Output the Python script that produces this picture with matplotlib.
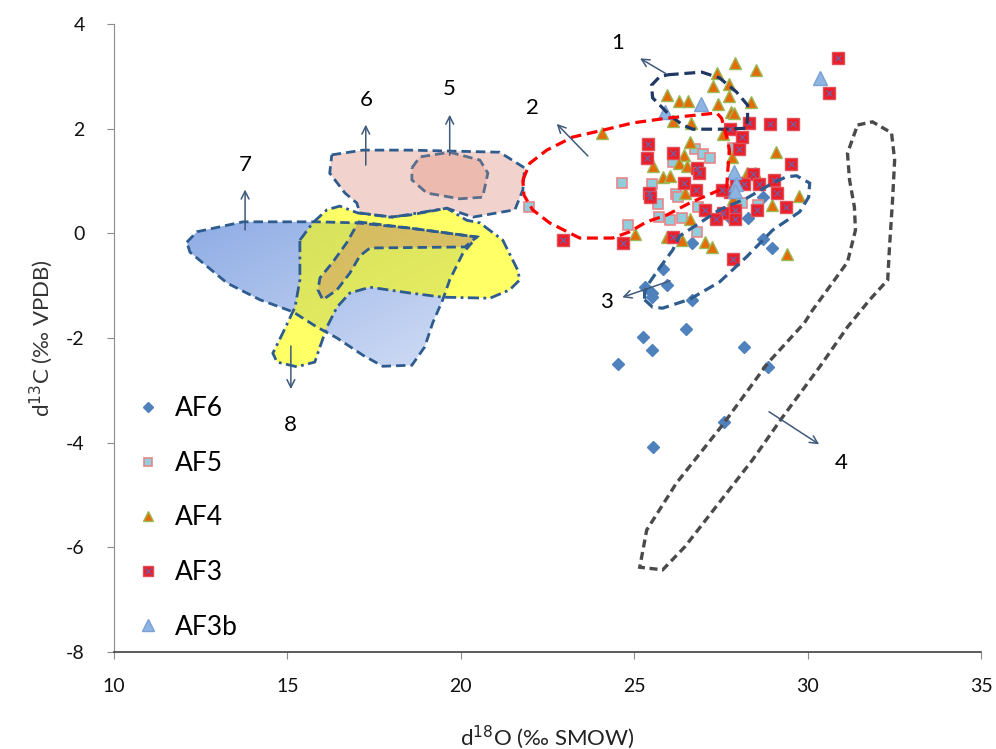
import matplotlib
matplotlib.use('Agg')
import matplotlib.pyplot as plt
import numpy as np
from matplotlib.patches import Polygon
from matplotlib.colors import LinearSegmentedColormap
from matplotlib.legend_handler import HandlerTuple

plt.rcParams['font.family'] = ['Lato', 'DejaVu Sans']
plt.rcParams['axes.unicode_minus'] = False

# ---------------- data ----------------
af6_x = [26.66, 28.96, 28.70, 25.82, 25.94, 25.30, 25.50, 25.50, 26.66, 26.48, 25.24, 25.50,
         28.16, 24.52, 28.85, 27.58, 25.53, 27.78, 28.70, 28.27]
af6_y = [-0.18, -0.28, -0.11, -0.68, -0.99, -1.03, -1.14, -1.22, -1.27, -1.83, -1.98, -2.23,
         -2.17, -2.50, -2.55, -3.61, -4.08, 0.27, 0.69, 0.29]

af5_x = [26.74, 26.97, 27.20, 26.11, 24.64, 25.50, 25.48, 25.68, 26.20, 26.25, 21.96, 24.81,
         25.71, 26.02, 26.37, 26.83, 28.56, 28.10, 26.80, 27.84]
af5_y = [1.61, 1.52, 1.44, 1.36, 0.96, 0.94, 0.77, 0.56, 0.75, 0.69, 0.50, 0.16,
         0.31, 0.25, 0.29, 0.50, 0.54, 0.58, 0.03, 1.63]

af4_x = [27.90, 28.50, 27.38, 27.26, 27.72, 25.94, 26.28, 26.54, 27.41, 27.72, 28.36, 27.78,
         27.87, 26.11, 26.63, 24.06, 27.55, 26.60, 26.43, 29.08, 25.53, 26.28, 26.51, 25.82,
         26.02, 27.81, 28.47, 26.46, 29.74, 28.96, 25.01, 25.94, 26.37, 27.03, 27.23, 29.42,
         26.60, 27.84, 28.24, 27.84]
af4_y = [3.25, 3.12, 3.06, 2.82, 2.85, 2.64, 2.53, 2.53, 2.47, 2.62, 2.51, 2.32,
         2.30, 2.15, 2.11, 1.92, 1.90, 1.75, 1.50, 1.55, 1.29, 1.34, 1.29, 1.08,
         1.10, 1.46, 1.15, 0.77, 0.71, 0.54, -0.01, -0.07, -0.13, -0.17, -0.26, -0.40,
         0.27, 0.58, 1.15, 0.66]

af3_x = [30.89, 30.63, 28.30, 28.93, 29.57, 27.75, 28.10, 28.01, 25.39, 25.36, 26.11, 29.51,
         26.80, 26.86, 26.43, 26.77, 25.42, 25.45, 28.42, 28.59, 29.02, 29.11, 27.93, 28.16,
         27.75, 27.03, 27.55, 27.90, 27.90, 28.53, 29.37, 27.35, 22.94, 24.67, 26.11, 27.84,
         27.52]
af3_y = [3.35, 2.68, 2.11, 2.09, 2.09, 1.99, 1.84, 1.61, 1.71, 1.44, 1.53, 1.32,
         1.25, 1.15, 0.96, 0.83, 0.77, 0.69, 1.13, 0.94, 1.02, 0.77, 0.96, 0.94,
         0.79, 0.45, 0.39, 0.45, 0.27, 0.45, 0.50, 0.27, -0.13, -0.18, -0.07, -0.49,
         0.83]

af3b_x = [30.37, 26.92, 25.88, 27.87, 27.93, 27.90]
af3b_y = [2.97, 2.47, 2.32, 1.17, 0.94, 0.81]

series_labels = ['AF6', 'AF5', 'AF4', 'AF3', 'AF3b']

# field outlines (data units)
region1 = [(25.97, 3.03), (26.95, 3.08), (27.46, 2.97), (27.95, 2.70), (28.27, 2.45), (28.27, 2.22),
           (28.24, 2.01), (27.67, 1.99), (26.69, 1.99), (26.40, 2.07), (26.02, 2.26), (25.53, 2.59),
           (25.50, 2.83), (25.73, 2.99)]
region2 = [(21.79, 1.02), (21.99, 1.34), (22.48, 1.59), (23.23, 1.84), (24.09, 1.97), (24.96, 2.11),
           (25.94, 2.20), (26.80, 2.26), (27.38, 2.30), (27.52, 2.20), (27.67, 1.84), (27.75, 1.59),
           (27.70, 1.21), (27.67, 0.89), (27.26, 0.77), (26.60, 0.58), (25.94, 0.35), (25.36, 0.22),
           (24.87, 0.03), (24.38, -0.09), (23.43, -0.09), (22.56, 0.20), (22.07, 0.45), (21.82, 0.73)]
region3 = [(25.30, -1.27), (25.53, -1.41), (25.82, -1.43), (26.60, -1.26), (27.46, -0.93), (28.24, -0.45),
           (28.99, 0.06), (29.77, 0.41), (30.03, 0.69), (30.06, 0.96), (29.68, 1.10), (29.39, 1.08),
           (28.99, 0.96), (28.24, 0.67), (27.46, 0.45), (26.80, 0.16), (26.31, -0.05), (26.11, -0.32),
           (25.73, -0.66), (25.45, -0.93), (25.30, -1.12)]
region4 = [(31.44, 2.07), (31.87, 2.13), (32.42, 1.92), (32.51, 1.40), (32.45, 0.64), (32.36, -0.28),
           (32.31, -0.89), (31.79, -1.27), (31.15, -1.79), (30.35, -2.55), (29.28, -3.51), (28.41, -4.33),
           (27.67, -4.96), (26.46, -5.99), (25.82, -6.43), (25.16, -6.38), (25.36, -5.67), (26.22, -4.77),
           (27.55, -3.66), (28.85, -2.48), (29.91, -1.71), (30.14, -1.47), (31.15, -0.55), (31.38, 0.06),
           (31.35, 0.50), (31.21, 1.02), (31.15, 1.53)]
region5 = [(18.59, 1.25), (18.82, 1.46), (19.68, 1.55), (20.55, 1.40), (20.78, 1.15), (20.63, 0.69),
           (19.97, 0.66), (19.02, 0.77), (18.59, 1.02)]
region6 = [(16.28, 1.50), (17.18, 1.59), (18.53, 1.59), (21.12, 1.55), (21.84, 1.25), (21.79, 0.83),
           (21.56, 0.45), (20.35, 0.31), (19.60, 0.48), (18.53, 0.35), (17.95, 0.31), (17.09, 0.39),
           (17.00, 0.58), (16.66, 0.77), (16.22, 1.15)]
region6_band = [(17.03, 0.22), (18.53, 0.10), (20.46, -0.07), (20.12, -0.26), (17.38, -0.28), (17.09, -0.43),
                (16.80, -0.76), (16.43, -1.08), (16.02, -1.27), (15.88, -1.08), (15.94, -0.85), (16.31, -0.55),
                (16.71, -0.18), (16.95, 0.10)]
region7 = [(12.10, -0.17), (12.39, 0.03), (13.72, 0.22), (15.85, 0.22), (17.00, 0.20), (18.53, 0.10),
           (20.46, -0.07), (20.06, -0.38), (19.68, -0.89), (19.48, -1.27), (19.19, -1.71), (18.96, -2.17),
           (18.59, -2.52), (17.75, -2.54), (17.18, -2.33), (16.43, -2.00), (15.85, -1.79), (15.16, -1.50),
           (14.21, -1.27), (13.26, -0.95), (12.19, -0.36)]
region8 = [(15.36, -0.13), (15.73, 0.20), (16.14, 0.45), (16.51, 0.52), (17.03, 0.39), (18.04, 0.31),
           (19.60, 0.48), (20.17, 0.25), (20.55, 0.20), (21.21, -0.13), (21.64, -0.70), (21.70, -0.89),
           (21.41, -1.08), (20.84, -1.24), (19.48, -1.22), (18.53, -1.14), (17.38, -1.03), (16.80, -1.14),
           (16.43, -1.41), (16.14, -1.79), (15.94, -2.17), (15.79, -2.46), (15.27, -2.55), (14.70, -2.46),
           (14.58, -2.29), (14.87, -1.90), (15.22, -1.41), (15.36, -0.89)]

# field labels: (label, arrow start, arrow tip, text position)
field_labels = ['1', '2', '3', '4', '5', '6', '7', '8']
arrow_start = [(25.97, 3.03), (23.72, 1.44), (26.11, -0.89), (28.82, -3.38),
               (19.68, 1.44), (17.26, 1.25), (13.78, 0.01), (15.10, -2.10)]
arrow_tip = [(25.10, 3.37), (22.71, 2.13), (24.58, -1.24), (30.40, -4.06),
             (19.68, 2.32), (17.26, 2.13), (13.78, 0.89), (15.10, -3.03)]
label_pos = [(24.52, 3.64), (22.07, 2.39), (24.21, -1.31), (30.98, -4.39),
             (19.68, 2.76), (17.26, 2.55), (13.78, 1.31), (15.10, -3.66)]

# ---------------- figure ----------------
fig = plt.figure(figsize=(9.96, 7.49), dpi=100)
ax = fig.add_axes([114 / 996, 1 - 652 / 749, 867 / 996, 628 / 749])

outline = '#2E5C8E'
dash = (0, (3.4, 1.8))

# scatter series
h6, = ax.plot(af6_x, af6_y, ls='none', marker='D', ms=6.5, mfc='#4F81BD', mec='#4F81BD', zorder=2)
h5, = ax.plot(af5_x, af5_y, ls='none', marker='s', ms=7.5, mfc='#92CDDC', mec='#E6878A', mew=1.2, zorder=2)
h4, = ax.plot(af4_x, af4_y, ls='none', marker='^', ms=8.5, mfc='#E36C09', mec='#9BBB59', mew=1.0, zorder=3)
h3s, = ax.plot(af3_x, af3_y, ls='none', marker='s', ms=8, mfc='#EE1C25', mec='#E0505A', mew=1.0, zorder=4)
h3x, = ax.plot(af3_x, af3_y, ls='none', marker='x', ms=5, mec='#7060A8', mew=0.9, zorder=5)
h3b, = ax.plot(af3b_x, af3b_y, ls='none', marker='^', ms=10, mfc='#8EB4E3', mec='#7BA2D2', mew=1.0, zorder=6)

# region 7 with gradient fill
p7 = Polygon(region7, closed=True, facecolor='none', edgecolor='none', transform=ax.transData)
ax.add_patch(p7)
xs7 = [p[0] for p in region7]
ys7 = [p[1] for p in region7]
u = np.linspace(0, 1, 200)
U, V = np.meshgrid(u, u)
Z = (U + V) / 2
cmap7 = LinearSegmentedColormap.from_list('g7', ['#8EACE4', '#D3DEF6'])
im = ax.imshow(Z, extent=[min(xs7), max(xs7), min(ys7), max(ys7)], origin='upper',
               cmap=cmap7, aspect='auto', zorder=7)
im.set_clip_path(p7)

ax.add_patch(Polygon(region8, closed=True, facecolor='#FFFF00', alpha=0.6, edgecolor='none', zorder=8))
ax.add_patch(Polygon(region6, closed=True, facecolor='#E6AEA3', alpha=0.55, edgecolor='none', zorder=9))
ax.add_patch(Polygon(region6_band, closed=True, facecolor='#D08E6A', alpha=0.45, edgecolor='none', zorder=9))
ax.add_patch(Polygon(region5, closed=True, facecolor='#E8A898', alpha=0.55, edgecolor='none', zorder=10))

# outlines
ax.add_patch(Polygon(region7, closed=True, fill=False, edgecolor=outline, lw=2.0, ls=dash, zorder=11))
ax.add_patch(Polygon(region8, closed=True, fill=False, edgecolor=outline, lw=2.0,
                     ls=(0, (4, 1.6, 1, 1.6)), zorder=11))
ax.add_patch(Polygon(region6, closed=True, fill=False, edgecolor=outline, lw=2.0, ls=dash, zorder=11))
ax.add_patch(Polygon(region6_band, closed=True, fill=False, edgecolor=outline, lw=2.0, ls=dash, zorder=11))
ax.add_patch(Polygon(region5, closed=True, fill=False, edgecolor='#5A6F8C', lw=2.0, ls=dash, zorder=11))
ax.add_patch(Polygon(region1, closed=True, fill=False, edgecolor='#1F3864', lw=2.3, ls=dash, zorder=11))
ax.add_patch(Polygon(region2, closed=True, fill=False, edgecolor='#FF0000', lw=2.3, ls=dash, zorder=11))
ax.add_patch(Polygon(region3, closed=True, fill=False, edgecolor=outline, lw=2.3, ls=dash, zorder=11))
ax.add_patch(Polygon(region4, closed=True, fill=False, edgecolor='#4A4A4A', lw=2.4, ls=(0, (2.4, 1.4)), zorder=11))

# arrows and labels
for lab, s, t, lp in zip(field_labels, arrow_start, arrow_tip, label_pos):
    ax.annotate('', xy=t, xytext=s,
                arrowprops=dict(arrowstyle='->', color='#3F5A7A', lw=1.1, mutation_scale=14),
                zorder=12)
    ax.text(lp[0], lp[1], lab, fontsize=16, ha='center', va='center', color='black', zorder=12)

leg = ax.legend([h6, h5, h4, (h3s, h3x), h3b], series_labels,
                handler_map={tuple: HandlerTuple(ndivide=1, pad=0)},
                loc='upper left', bbox_to_anchor=(-0.006, 0.445), frameon=False,
                fontsize=19, labelspacing=1.12, handletextpad=0.4, handlelength=1.2,
                markerscale=0.85)

# axes
ax.set_xlim(10, 35)
ax.set_ylim(-8, 4)
ax.set_xticks([10, 15, 20, 25, 30, 35])
ax.set_yticks([-8, -6, -4, -2, 0, 2, 4])
for sp in ['top', 'right']:
    ax.spines[sp].set_visible(False)
ax.spines['left'].set_color('#8C8C8C')
ax.spines['bottom'].set_color('#404040')
ax.spines['bottom'].set_linewidth(1.2)
ax.tick_params(axis='both', direction='out', length=5, color='#8C8C8C', labelsize=14,
               labelcolor='#111111')
ax.tick_params(axis='x', pad=14)
ax.tick_params(axis='y', pad=16)

ax.set_xlabel(r'd$^{18}$O (‰ SMOW)', fontsize=16, color='#222222', labelpad=20)
ax.set_ylabel(r'd$^{13}$C (‰ VPDB)', fontsize=16, color='#333333', labelpad=8)

fig.savefig('out.png', dpi=100)
